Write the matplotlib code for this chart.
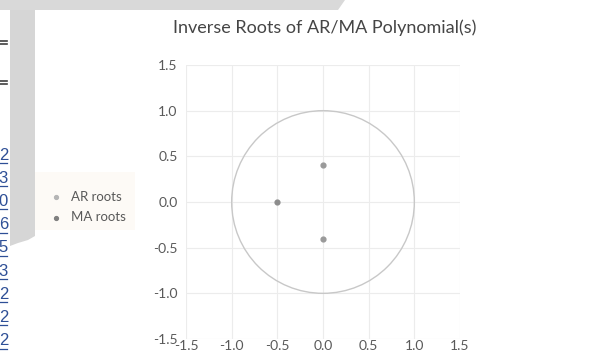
import matplotlib
matplotlib.use("Agg")
import matplotlib.pyplot as plt
from matplotlib.patches import Circle, Rectangle, Polygon

# inverse roots (real, imaginary)
ar_re = [-0.5]
ar_im = [0.0]
ma_re = [0.0, 0.0]
ma_im = [0.4, -0.4]
ticks = [-1.5, -1.0, -0.5, 0.0, 0.5, 1.0, 1.5]
tick_labels = ["-1.5", "-1.0", "-0.5", "0.0", "0.5", "1.0", "1.5"]
side_digits = ["2", "3", "0", "6", "5", "3", "2", "2", "2"]

W, H = 590, 357
plt.rcParams["font.family"] = ["Lato", "DejaVu Sans"]

fig = plt.figure(figsize=(W / 100, H / 100), dpi=100)
fig.patch.set_facecolor("white")

# page background bits around the chart
bg = fig.add_axes([0, 0, 1, 1], zorder=-5)
bg.set_xlim(0, W)
bg.set_ylim(H, 0)
bg.axis("off")
bg.add_patch(Polygon([(0, 0), (345, 0), (338, 10), (0, 10)], color="#d9d9d9", lw=0))
bg.add_patch(Polygon([(10, 10), (35, 10), (35, 236), (28, 240), (18, 243), (10, 246)],
                     color="#d6d6d6", lw=0))
for yy in (42, 82):
    bg.plot([0, 7], [yy - 1.5, yy - 1.5], color="#404040", lw=1.2)
    bg.plot([0, 7], [yy + 1.5, yy + 1.5], color="#404040", lw=1.2)
for i, d in enumerate(side_digits):
    yy = 155 + i * 23.2
    bg.text(8, yy, d, ha="right", va="center", color="#2e4f96", fontsize=12,
            family=["Liberation Sans", "DejaVu Sans"], clip_on=True)
    bg.plot([0, 7], [yy + 8, yy + 8], color="#2e4f96", lw=0.9)
bg.add_patch(Rectangle((35, 172), 100, 58, facecolor="#fdfaf6", edgecolor="none"))

ax = fig.add_axes([186 / W, 1 - 339 / H, 274 / W, 274 / H])
ax.set_xlim(-1.5, 1.5)
ax.set_ylim(-1.5, 1.5)
for s in ax.spines.values():
    s.set_visible(False)
ax.set_xticks(ticks, tick_labels)
ax.set_yticks(ticks, tick_labels)
ax.tick_params(length=0, colors="#595959", labelsize=10)
ax.tick_params(axis="y", pad=6)
ax.tick_params(axis="x", pad=1)
ax.grid(True, color="#ececec", lw=0.8)
ax.set_axisbelow(True)

ax.add_patch(Circle((0, 0), 1.0, fill=False, edgecolor="#c8c8c8", lw=1.0))
ax.scatter(ar_re, ar_im, s=12, color="#8c8c8c", zorder=3, label="AR roots")
ax.scatter(ma_re, ma_im, s=12, color="#9a9a9a", zorder=3, label="MA roots")

fig.text(325 / W, 1 - 28 / H, "Inverse Roots of AR/MA Polynomial(s)", color="#454545",
         fontsize=13, ha="center", va="center")

h, l = ax.get_legend_handles_labels()
leg = fig.legend(h, l, loc="center left", bbox_to_anchor=(31 / W, 1 - 207 / H),
                 frameon=False, fontsize=9.5, labelcolor="#595959", handletextpad=0.15,
                 markerscale=0.8, labelspacing=0.65)
leg.legend_handles[0].set_color("#b5b5b5")
leg.legend_handles[1].set_color("#808080")

fig.savefig("out.png", dpi=100)
